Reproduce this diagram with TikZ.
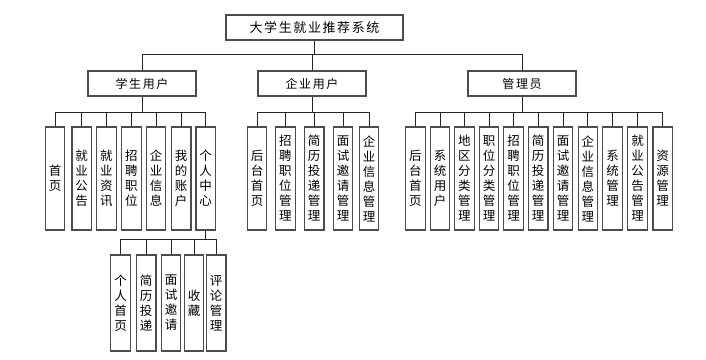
\documentclass[tikz,border=0pt]{standalone}
\usepackage{fontspec}
\setmainfont{Noto Sans CJK SC}
\newcommand\mygap{\kern1.6pt}
\begin{document}
\begin{tikzpicture}[x=1pt,y=-1pt,
  box/.style={draw=black!70,line width=1.1pt,fill=white,inner sep=0pt,align=center},
  topbox/.style={box,minimum width=177pt,minimum height=25pt,font=\fontsize{13}{15}\selectfont},
  midbox/.style={box,minimum width=108pt,minimum height=25pt,font=\fontsize{12}{15}\selectfont},
  colbox/.style={box,minimum width=19.5pt,minimum height=103pt,font=\fontsize{12.5}{15}\selectfont},
  subbox/.style={box,minimum width=19.5pt,minimum height=96pt,font=\fontsize{12.5}{15}\selectfont},
  conn/.style={draw=black!85,line width=0.8pt}]
\useasboundingbox (0,0) rectangle (706,359);
\coordinate (b1) at (0,54.3);
\coordinate (b2) at (0,112);
\coordinate (b3) at (0,239);

\node[topbox] (root) at (314.5,27.5) {大\mygap{}学\mygap{}生\mygap{}就\mygap{}业\mygap{}推\mygap{}荐\mygap{}系\mygap{}统};
\node[midbox] (stu) at (142,83.5) {学\mygap{}生\mygap{}用\mygap{}户};
\node[midbox] (ent) at (312,83.5) {企\mygap{}业\mygap{}用\mygap{}户};
\node[midbox] (adm) at (522,83.5) {管\mygap{}理\mygap{}员};

% student children
\node[colbox] (s1) at (55,178.5) {首\\页};
\node[colbox] (s2) at (81.7,178.5) {就\\业\\公\\告};
\node[colbox] (s3) at (106.3,178.5) {就\\业\\资\\讯};
\node[colbox] (s4) at (131.3,178.5) {招\\聘\\职\\位};
\node[colbox] (s5) at (156,178.5) {企\\业\\信\\息};
\node[colbox] (s6) at (181.2,178.5) {我\\的\\账\\户};
\node[colbox] (s7) at (205.7,178.5) {个\\人\\中\\心};

% enterprise children
\node[colbox] (e1) at (257,178.5) {后\\台\\首\\页};
\node[colbox] (e2) at (285.3,178.5) {招\\聘\\职\\位\\管\\理};
\node[colbox] (e3) at (314.2,178.5) {简\\历\\投\\递\\管\\理};
\node[colbox] (e4) at (343,178.5) {面\\试\\邀\\请\\管\\理};
\node[colbox] (e5) at (369,178.5) {企\\业\\信\\息\\管\\理};

% admin children
\node[colbox] (a1) at (415.3,178.5) {后\\台\\首\\页};
\node[colbox] (a2) at (440,178.5) {系\\统\\用\\户};
\node[colbox] (a3) at (464.3,178.5) {地\\区\\分\\类\\管\\理};
\node[colbox] (a4) at (489,178.5) {职\\位\\分\\类\\管\\理};
\node[colbox] (a5) at (513.5,178.5) {招\\聘\\职\\位\\管\\理};
\node[colbox] (a6) at (538.2,178.5) {简\\历\\投\\递\\管\\理};
\node[colbox] (a7) at (563,178.5) {面\\试\\邀\\请\\管\\理};
\node[colbox] (a8) at (587.8,178.5) {企\\业\\信\\息\\管\\理};
\node[colbox] (a9) at (612.5,178.5) {系\\统\\管\\理};
\node[colbox] (a10) at (637.5,178.5) {就\\业\\公\\告\\管\\理};
\node[colbox] (a11) at (662.7,178.5) {资\\源\\管\\理};

% personal center children
\node[subbox] (p1) at (120.5,303) {个\\人\\首\\页};
\node[subbox] (p2) at (146.2,303) {简\\历\\投\\递};
\node[subbox] (p3) at (171,303) {面\\试\\邀\\请};
\node[subbox] (p4) at (194,303) {收\\藏};
\node[subbox] (p5) at (216.2,303) {评\\论\\管\\理};

% level 1 connectors
\draw[conn] (root.south) -- (root.south |- b1);
\draw[conn] (stu.north) -- (stu.north |- b1) -- (adm.north |- b1) -- (adm.north);
\draw[conn] (ent.north) -- (ent.north |- b1);

% student connectors
\draw[conn] (stu.south) -- (stu.south |- b2);
\draw[conn] (s1.north) -- (s1.north |- b2) -- (s7.north |- b2) -- (s7.north);
\foreach \i in {2,...,6} \draw[conn] (s\i.north) -- (s\i.north |- b2);

% enterprise connectors
\draw[conn] (ent.south) -- (ent.south |- b2);
\draw[conn] (e1.north) -- (e1.north |- b2) -- (e5.north |- b2) -- (e5.north);
\foreach \i in {2,...,4} \draw[conn] (e\i.north) -- (e\i.north |- b2);

% admin connectors
\draw[conn] (adm.south) -- (adm.south |- b2);
\draw[conn] (a1.north) -- (a1.north |- b2) -- (a11.north |- b2) -- (a11.north);
\foreach \i in {2,...,10} \draw[conn] (a\i.north) -- (a\i.north |- b2);

% personal center connectors
\draw[conn] (s7.south) -- (s7.south |- b3);
\draw[conn] (p1.north) -- (p1.north |- b3) -- (p5.north |- b3) -- (p5.north);
\foreach \i in {2,...,4} \draw[conn] (p\i.north) -- (p\i.north |- b3);
\end{tikzpicture}
\end{document}
